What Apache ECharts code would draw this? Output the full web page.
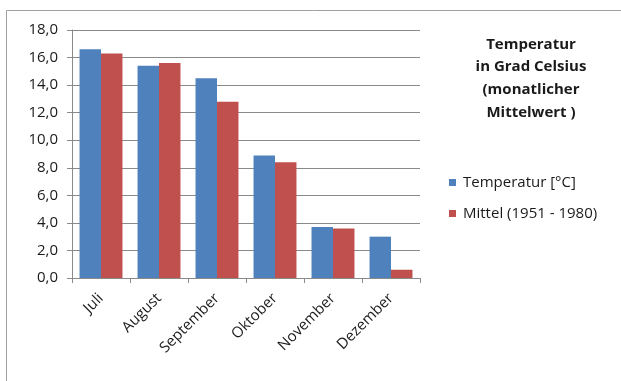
<!DOCTYPE html>
<html>
<head>
<meta charset="utf-8">
<script src="https://cdn.jsdelivr.net/npm/echarts@6/dist/echarts.min.js"></script>
<style>
  html, body { margin: 0; padding: 0; background: #fff; }
  #chart { width: 621px; height: 381px; }
</style>
</head>
<body>
<div id="chart"></div>
<script>
// Monthly mean temperatures compared with the 1951-1980 average
const months = ['Juli', 'August', 'September', 'Oktober', 'November', 'Dezember'];
const temperatur = [16.6, 15.4, 14.5, 8.9, 3.7, 3.0];
const mittel = [16.3, 15.6, 12.8, 8.4, 3.6, 0.6];
const seriesNames = ['Temperatur [°C]', 'Mittel (1951 - 1980)'];
const titleLines = ['Temperatur', 'in Grad Celsius', '(monatlicher', 'Mittelwert )'];

const FONT = 'Open Sans';
const TEXT = '#1a1a1a';
const GRID = '#8a8a8a';

const chart = echarts.init(document.getElementById('chart'), null, { renderer: 'canvas' });

chart.setOption({
  backgroundColor: '#ffffff',
  animation: false,
  textStyle: { fontFamily: FONT },
  title: {
    text: titleLines.join('\n'),
    left: 526,
    top: 28,
    textAlign: 'center',
    textStyle: {
      fontFamily: FONT,
      fontSize: 15,
      fontWeight: 'bold',
      color: TEXT,
      lineHeight: 22.8,
      align: 'center'
    }
  },
  legend: {
    orient: 'vertical',
    left: 444,
    top: 170,
    itemWidth: 7,
    itemHeight: 7,
    itemGap: 16,
    icon: 'rect',
    data: seriesNames,
    textStyle: { fontFamily: FONT, fontSize: 15, color: TEXT, padding: [0, 0, 0, 2] }
  },
  grid: { left: 72, top: 30, right: 201, bottom: 103, containLabel: false },
  xAxis: {
    type: 'category',
    data: months,
    boundaryGap: true,
    axisLine: { show: true, lineStyle: { color: GRID, width: 1 } },
    axisTick: { show: true, length: 5, lineStyle: { color: GRID } },
    axisLabel: {
      rotate: 45,
      margin: 18,
      fontFamily: FONT,
      fontSize: 15,
      color: TEXT,
      interval: 0
    }
  },
  yAxis: {
    type: 'value',
    min: 0,
    max: 18,
    interval: 2,
    axisLine: { show: true, lineStyle: { color: GRID, width: 1 } },
    axisTick: { show: true, length: 5, lineStyle: { color: GRID } },
    splitLine: { show: true, lineStyle: { color: GRID, width: 1 } },
    axisLabel: {
      margin: 14,
      fontFamily: FONT,
      fontSize: 15,
      color: TEXT,
      formatter: v => v.toFixed(1).replace('.', ',')
    }
  },
  series: [
    {
      name: seriesNames[0],
      type: 'bar',
      data: temperatur,
      barGap: '0%',
      barCategoryGap: '26%',
      itemStyle: { color: '#4f81bd' }
    },
    {
      name: seriesNames[1],
      type: 'bar',
      data: mittel,
      barGap: '0%',
      barCategoryGap: '26%',
      itemStyle: { color: '#c0504d' }
    }
  ],
  graphic: [
    // outer chart frame (top and left edges)
    { type: 'line', shape: { x1: 6.5, y1: 10.5, x2: 621, y2: 10.5 }, style: { stroke: '#a0a0a0', lineWidth: 1 } },
    { type: 'line', shape: { x1: 6.5, y1: 10.5, x2: 6.5, y2: 381 }, style: { stroke: '#a0a0a0', lineWidth: 1 } }
  ]
});
</script>
</body>
</html>
